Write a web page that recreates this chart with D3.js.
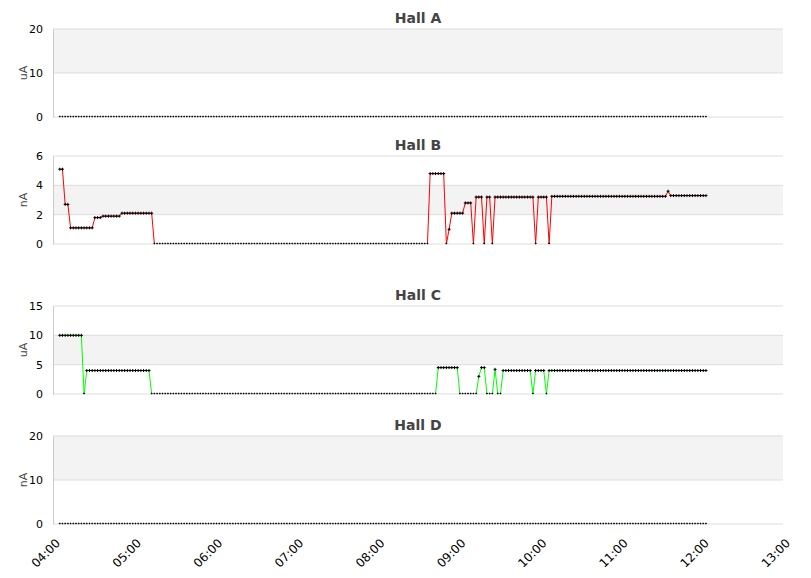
<!DOCTYPE html>
<html><head><meta charset="utf-8">
<script src="https://cdn.jsdelivr.net/npm/d3@7"></script>
<style>body{margin:0;background:#fff}text{font-family:"DejaVu Sans",sans-serif}</style>
</head><body><svg id="c" width="811" height="578"></svg>
<script>
// sampling: one point every 2 minutes starting 04:05
const startTime = "04:05";
const stepMinutes = 2;
const panelTitles = ["Hall A", "Hall B", "Hall C", "Hall D"];
const panelUnits = ["uA", "nA", "uA", "nA"];
const panelMax = [20, 6, 15, 20];
const panelTicks = [[0, 10, 20], [0, 2, 4, 6], [0, 5, 10, 15], [0, 10, 20]];
const panelBand = [[10, 20], [2, 4], [5, 10], [10, 20]];
const lineColors = ["#000", "#ff0000", "#00ff00", "#000"];
const xTickLabels = ["04:00","05:00","06:00","07:00","08:00","09:00","10:00","11:00","12:00","13:00"];
// run-length encoded values: [value, count]
const hallA = [[0, 240]];
const hallB = [[5.1,2],[2.7,2],[1.1,9],[1.8,3],[1.9,7],[2.1,12],[0,102],[4.8,6],[0,1],[1.0,1],[2.1,5],[2.8,3],[0,1],[3.2,3],[0,1],[3.2,2],[0,1],[3.2,15],[0,1],[3.2,4],[0,1],[3.25,43],[3.6,1],[3.3,14]];
const hallC = [[10,9],[0,1],[4,24],[0,106],[4.5,8],[0,7],[3,1],[4.5,2],[0,3],[4.2,1],[0,2],[4,11],[0,1],[4,4],[0,1],[4,59]];
const hallD = [[0, 240]];
const series = [hallA, hallB, hallC, hallD];

const parse = d3.timeParse("%H:%M");
const t0 = parse(startTime);
function expand(rl){const out=[];let i=0;rl.forEach(([v,c])=>{for(let k=0;k<c;k++){out.push({t:new Date(+t0+i*stepMinutes*60000),v});i++;}});return out;}

const svg = d3.select("#c");
const x = d3.scaleTime().domain([parse("04:00"), parse("13:00")]).range([53, 783]);
const tops = [29, 156, 306, 436], h = 88;

series.forEach((rl, p) => {
  const data = expand(rl);
  const y = d3.scaleLinear().domain([0, panelMax[p]]).range([tops[p] + h, tops[p]]);
  const g = svg.append("g");
  g.append("rect").attr("x", 53).attr("width", 730).attr("y", y(panelBand[p][1])).attr("height", y(panelBand[p][0]) - y(panelBand[p][1])).attr("fill", "#f3f3f3");
  panelTicks[p].forEach(v => {
    g.append("line").attr("x1", 53).attr("x2", 783).attr("y1", y(v)).attr("y2", y(v)).attr("stroke", "#ddd");
  });
  const ax = g.append("g").attr("transform", "translate(53,0)").call(d3.axisLeft(y).tickValues(panelTicks[p]).tickFormat(d3.format("d")).tickSize(0).tickPadding(10));
  ax.select(".domain").attr("stroke", "#ccc");
  ax.selectAll("text").attr("font-size", 11).attr("fill", "#000").attr("font-family", "DejaVu Sans");
  g.append("text").attr("transform", `translate(27,${tops[p] + h / 2}) rotate(-90)`).attr("text-anchor", "middle").attr("font-size", 11).attr("fill", "#444").text(panelUnits[p]);
  g.append("text").attr("x", 418).attr("y", tops[p] - 6).attr("text-anchor", "middle").attr("font-size", 14).attr("font-weight", "bold").attr("fill", "#444").attr("font-family", "Liberation Sans").text(panelTitles[p]);
  if (p === 1 || p === 2) {
    const segs = d3.pairs(data).filter(([a, b]) => a.v !== 0 || b.v !== 0);
    g.selectAll(".s").data(segs).join("line")
      .attr("x1", d => x(d[0].t)).attr("y1", d => y(d[0].v))
      .attr("x2", d => x(d[1].t)).attr("y2", d => y(d[1].v))
      .attr("stroke", lineColors[p]).attr("stroke-width", 1);
  }
  g.selectAll(".m").data(data).join("path").attr("d", d => d.v === 0
      ? `M${x(d.t)-0.5},${y(d.v)-1}h1v1h-1z`
      : `M${x(d.t)-1.5},${y(d.v)}h3M${x(d.t)},${y(d.v)-1.5}v3`)
    .attr("stroke", "#000").attr("stroke-width", d => d.v === 0 ? 0.6 : 1).attr("fill", "#000");
});

const xa = svg.append("g").attr("transform", "translate(0,528)").call(d3.axisBottom(x).ticks(d3.timeHour.every(1)).tickFormat(d3.timeFormat("%H:%M")).tickSize(0).tickPadding(6));
xa.select(".domain").remove();
xa.selectAll("text").attr("font-size", 12).attr("fill", "#000").attr("font-family", "DejaVu Sans")
  .attr("text-anchor", "end").attr("transform", "rotate(-45) translate(-6,2)").attr("dy", "0.7em");
</script></body></html>
